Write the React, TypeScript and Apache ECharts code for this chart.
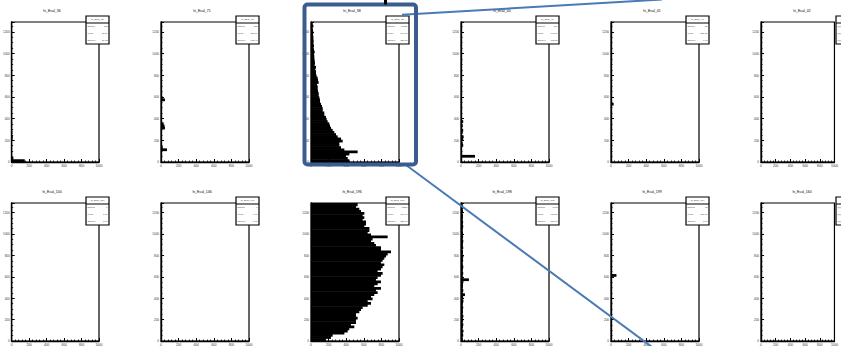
import React, { useEffect, useRef } from "react";
import * as echarts from "echarts";

// ---- data ----
const BIN_WIDTH = 20;
const Y_MAX = 1290;
const X_MAX = 1000;
const X_INTERVAL = 200;
const Y_INTERVAL = 200;

const titlesRow1 = ["hi_Ecal_36", "hi_Ecal_71", "hi_Ecal_38", "hi_Ecal_40", "hi_Ecal_41", "hi_Ecal_42"];
const titlesRow2 = ["hi_Ecal_100", "hi_Ecal_146", "hi_Ecal_196", "hi_Ecal_198", "hi_Ecal_199", "hi_Ecal_160"];

const entriesRow1 = [172, 318, 12480, 214, 30, 0];
const meanRow1 = [12.34, 302.1, 241.7, 148.6, 530.2, 0];
const stdRow1 = [81.02, 178.4, 236.5, 102.3, 0.0, 0];
const entriesRow2 = [0, 0, 48210, 1962, 62, 0];
const meanRow2 = [0, 0, 661.4, 612.8, 650.0, 0];
const stdRow2 = [0, 0, 355.9, 372.1, 0.0, 0];

// dense histograms (one value per bin of width 20, from 0 upwards)
const ecal38 = [436, 417, 398, 436, 530, 379, 341, 322, 322, 360, 341, 303, 284, 265, 246, 227, 216, 208, 189, 178, 170, 151, 151, 133, 133, 125, 114, 102, 102, 95, 87, 87, 80, 76, 76, 68, 87, 80, 76, 64, 57, 57, 49, 57, 42, 45, 42, 38, 38, 34, 42, 34, 30, 34, 27, 30, 27, 27, 23, 27, 23, 19, 27, 19, 19];
const ecal196 = [170, 227, 246, 379, 417, 435, 492, 454, 511, 511, 530, 511, 511, 549, 568, 587, 644, 682, 644, 700, 682, 719, 757, 738, 795, 719, 757, 795, 738, 757, 795, 814, 757, 795, 814, 833, 795, 814, 833, 852, 871, 909, 795, 795, 738, 719, 682, 700, 871, 682, 644, 663, 663, 606, 625, 625, 587, 606, 587, 606, 568, 549, 511, 530, 530];
const ecal198 = [22, 18, 25, 20, 28, 17, 22, 26, 19, 24, 21, 27, 18, 23, 20, 25, 19, 22, 28, 20, 24, 45, 21, 26, 19, 23, 22, 27, 90, 24, 20, 25, 18, 22, 26, 21, 19, 24, 22, 27, 20, 23, 18, 25, 21, 22, 26, 19, 24, 20, 23, 18, 22, 25, 20, 24, 19, 21, 23, 18, 22, 20, 24, 19, 21];

// sparse histograms: [bin index, value]
const ecal36: number[][] = [[0, 150], [1, 20], [10, 10], [11, 12], [13, 8]];
const ecal71: number[][] = [[5, 68], [6, 20], [15, 45], [16, 40], [17, 30], [28, 45], [29, 20]];
const ecal40: number[][] = [[2, 159], [7, 25], [8, 20], [10, 25], [11, 30], [13, 20], [14, 25], [16, 20], [18, 25]];
const ecal41: number[][] = [[26, 30]];
const ecal42: number[][] = [];
const ecal100: number[][] = [];
const ecal146: number[][] = [];
const ecal199: number[][] = [[30, 62]];
const ecal160: number[][] = [];

const dense = (vals: number[]) => vals.map((v, i) => [i * BIN_WIDTH, (i + 1) * BIN_WIDTH, v]).filter((d) => d[2] > 0);
const sparse = (pairs: number[][]) => pairs.map(([b, v]) => [b * BIN_WIDTH, (b + 1) * BIN_WIDTH, v]);

const panelData = [
  sparse(ecal36), sparse(ecal71), dense(ecal38), sparse(ecal40), sparse(ecal41), sparse(ecal42),
  sparse(ecal100), sparse(ecal146), dense(ecal196), dense(ecal198), sparse(ecal199), sparse(ecal160),
];

// ---- layout ----
const PITCH = 150;
const GRID_LEFT0 = 11;
const GRID_W = 88;
const ROW_TOP = [22, 203];
const ROW_H = [140, 139];
const PAGE_W = 841;
const FONT = "Liberation Sans, Arial, sans-serif";

export default function App() {
  const ref = useRef<HTMLDivElement>(null);

  useEffect(() => {
    if (!ref.current) return;
    const chart = echarts.init(ref.current, null, { renderer: "svg" });

    const grids: any[] = [];
    const xAxes: any[] = [];
    const yAxes: any[] = [];
    const series: any[] = [];
    const graphics: any[] = [];

    for (let r = 0; r < 2; r++) {
      for (let c = 0; c < 6; c++) {
        const idx = r * 6 + c;
        const off = c * PITCH;
        grids.push({
          left: GRID_LEFT0 + off,
          top: ROW_TOP[r],
          width: GRID_W,
          height: ROW_H[r],
          show: true,
          borderColor: "#000",
          borderWidth: 1.2,
          backgroundColor: "transparent",
        });
        xAxes.push({
          type: "value",
          gridIndex: idx,
          min: 0,
          max: X_MAX,
          interval: X_INTERVAL,
          axisLine: { show: true, onZero: false, lineStyle: { color: "#000", width: 1.4 } },
          axisTick: { show: true, inside: true, length: 3, lineStyle: { color: "#000", width: 1 } },
          minorTick: { show: true, splitNumber: 5, length: 1.5, lineStyle: { color: "#000", width: 0.8 } },
          axisLabel: { fontSize: 3.2, margin: 2, color: "#333", fontFamily: FONT, formatter: (v: number) => String(v) },
          splitLine: { show: false },
        });
        yAxes.push({
          type: "value",
          gridIndex: idx,
          min: 0,
          max: Y_MAX,
          interval: Y_INTERVAL,
          axisLine: { show: true, onZero: false, lineStyle: { color: "#000", width: 1.4 } },
          axisTick: { show: true, inside: true, length: 3, lineStyle: { color: "#000", width: 1 } },
          minorTick: { show: true, splitNumber: 4, length: 1.5, lineStyle: { color: "#000", width: 0.8 } },
          axisLabel: { fontSize: 3, margin: 2, color: "#333", fontFamily: FONT, showMaxLabel: false, formatter: (v: number) => String(v) },
          splitLine: { show: false },
        });
        series.push({
          type: "custom",
          xAxisIndex: idx,
          yAxisIndex: idx,
          data: panelData[idx],
          encode: { x: 2, y: [0, 1] },
          renderItem: (params: any, api: any) => {
            const cs = params.coordSys;
            const p0 = api.coord([0, api.value(0)]);
            const p1 = api.coord([api.value(2), api.value(1)]);
            const top = Math.max(p1[1] - 0.6, cs.y);
            const bottom = Math.min(p0[1], cs.y + cs.height);
            if (bottom <= top) return null;
            return {
              type: "rect",
              shape: { x: p0[0], y: top, width: p1[0] - p0[0], height: bottom - top },
              style: { fill: "#000" },
            };
          },
        });

        // title
        const title = r === 0 ? titlesRow1[c] : titlesRow2[c];
        const ty = r === 0 ? 11 : 192;
        graphics.push({
          type: "text",
          x: 52 + off,
          y: ty,
          z: 100,
          style: { text: title, fontSize: 3.5, fill: "#000", align: "center", verticalAlign: "middle", fontFamily: FONT },
        });

        // stats box
        const by = r === 0 ? 16 : 197;
        const bx = 86 + off;
        const entries = r === 0 ? entriesRow1[c] : entriesRow2[c];
        const mean = r === 0 ? meanRow1[c] : meanRow2[c];
        const std = r === 0 ? stdRow1[c] : stdRow2[c];
        graphics.push({
          type: "rect",
          z: 100,
          shape: { x: bx, y: by, width: 23, height: 28 },
          style: { fill: "#fff", stroke: "#000", lineWidth: 1.2 },
        });
        graphics.push({
          type: "line",
          z: 101,
          shape: { x1: bx, y1: by + 7, x2: bx + 23, y2: by + 7 },
          style: { stroke: "#000", lineWidth: 1 },
        });
        // only place texts that fall on the page (last column's box is cut by the page edge)
        if (bx + 20 < PAGE_W) {
          graphics.push({
            type: "text",
            z: 101,
            x: bx + 11.5,
            y: by + 3.5,
            style: { text: title, fontSize: 2.5, fill: "#333", align: "center", verticalAlign: "middle", fontFamily: FONT },
          });
          const rows = [
            ["Entries", String(entries)],
            ["Mean", mean.toFixed(2)],
            ["Std Dev", std.toFixed(2)],
          ];
          rows.forEach((row, k) => {
            const yy = by + 10.7 + k * 7;
            graphics.push({
              type: "text",
              z: 101,
              x: bx + 1.5,
              y: yy,
              style: { text: row[0], fontSize: 2.3, fill: "#444", align: "left", verticalAlign: "middle", fontFamily: FONT },
            });
            graphics.push({
              type: "text",
              z: 101,
              x: bx + 21.5,
              y: yy,
              style: { text: row[1], fontSize: 2.3, fill: "#444", align: "right", verticalAlign: "middle", fontFamily: FONT },
            });
          });
        } else {
          // partially visible row markers at the page edge
          [by + 10.7, by + 17.7, by + 24.7].forEach((yy) => {
            graphics.push({
              type: "line",
              z: 101,
              shape: { x1: bx + 1.5, y1: yy, x2: bx + 5, y2: yy },
              style: { stroke: "#888", lineWidth: 0.6 },
            });
          });
        }
      }
    }

    // callout lines
    graphics.push({
      type: "line",
      z: 150,
      shape: { x1: 402, y1: 14.8, x2: 662, y2: -0.5 },
      style: { stroke: "#4a7ab4", lineWidth: 2 },
    });
    graphics.push({
      type: "line",
      z: 150,
      shape: { x1: 406, y1: 165, x2: 652, y2: 347 },
      style: { stroke: "#4a7ab4", lineWidth: 2 },
    });
    // highlight box
    graphics.push({
      type: "rect",
      z: 200,
      shape: { x: 304.5, y: 4.5, width: 111.5, height: 160, r: 3 },
      style: { fill: "none", stroke: "#3a5c8e", lineWidth: 4 },
    });
    // fragment of a glyph at the top edge
    graphics.push({
      type: "rect",
      z: 200,
      shape: { x: 384, y: 0, width: 3, height: 4.5 },
      style: { fill: "#000" },
    });

    chart.setOption({
      animation: false,
      backgroundColor: "#fff",
      grid: grids,
      xAxis: xAxes,
      yAxis: yAxes,
      series,
      graphic: graphics,
    });

    return () => chart.dispose();
  }, []);

  return (
    <div
      ref={ref}
      style={{ position: "fixed", left: 0, top: 0, width: 841, height: 346, background: "#fff" }}
    />
  );
}
